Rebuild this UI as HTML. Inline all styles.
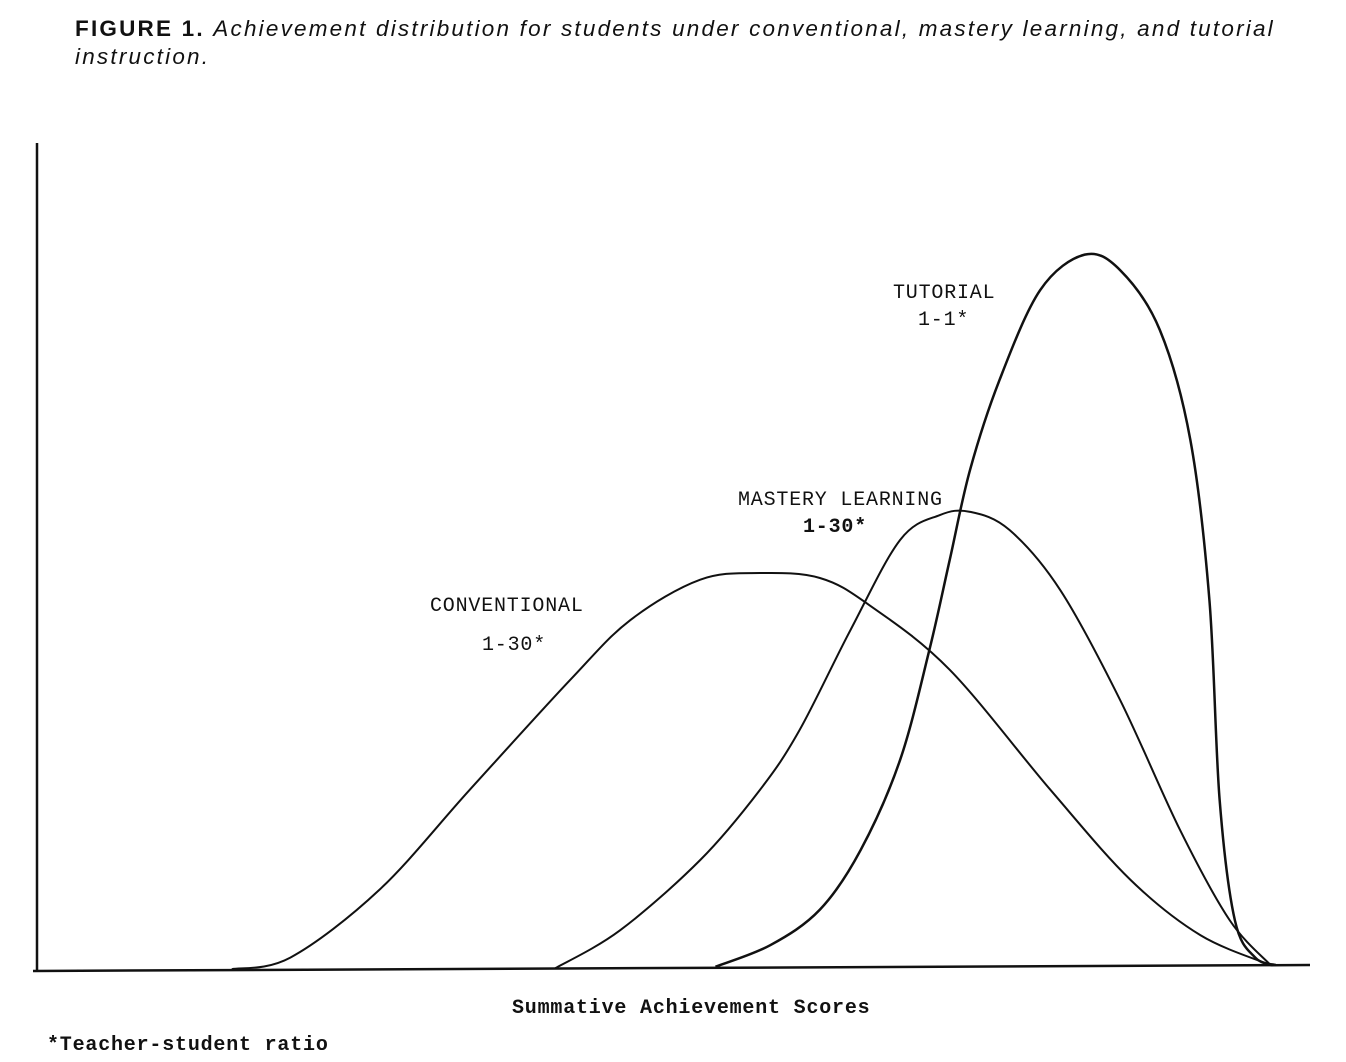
<!DOCTYPE html>
<html>
<head>
<meta charset="utf-8">
<style>
  html,body{margin:0;padding:0;background:#fff;}
  body{width:1346px;height:1062px;position:relative;overflow:hidden;font-family:"Liberation Sans",sans-serif;}
  .title{position:absolute;left:75px;top:15px;width:1225px;font-size:22.5px;line-height:28px;letter-spacing:2.2px;color:#111;}
  .title b{font-weight:bold;}
  .title i{font-style:italic;}
  svg{position:absolute;left:0;top:0;}
  .lbl{font-family:"Liberation Mono",monospace;font-size:20px;fill:#111;letter-spacing:0.8px;}
</style>
</head>
<body>
<div class="title"><b>FIGURE 1.</b> <i>Achievement distribution for students under conventional, mastery learning, and tutorial instruction.</i></div>
<svg id="chart" width="1346" height="1062">
  <line x1="37" y1="143" x2="37" y2="972" stroke="#111" stroke-width="2.5"/>
  <line x1="33" y1="971" x2="1310" y2="965" stroke="#111" stroke-width="2.5"/>
  <g id="curves"></g>
  <text class="lbl" x="893" y="298">TUTORIAL</text>
  <text class="lbl" x="918" y="325">1-1*</text>
  <text class="lbl" x="738" y="505">MASTERY LEARNING</text>
  <text class="lbl" x="803" y="532" font-weight="bold">1-30*</text>
  <text class="lbl" x="430" y="611">CONVENTIONAL</text>
  <text class="lbl" x="482" y="650">1-30*</text>
  <text class="lbl" x="512" y="1013" font-weight="bold">Summative Achievement Scores</text>
  <text class="lbl" x="47" y="1050" font-weight="bold">*Teacher-student ratio</text>
</svg>
<script>
const seriesNames = ['conventional','mastery-learning','tutorial'];
const convX = [15.3,19.9,26.9,34.0,41.9,46.6,52.1,56.8,61.5,65.4,71.7,79.6,85.9,91.4,96.9];
const convY = [0.1,1.5,9.7,21.8,35.1,42.3,47.2,48.0,47.4,44.1,36.3,21.8,10.9,4.2,0.6];
const mastX = [40.7,45.8,52.1,56.8,59.9,63.9,67.8,70.9,73.3,76.4,80.4,85.1,89.8,93.7,96.9];
const mastY = [0.2,4.8,13.3,21.8,29.0,41.1,52.0,55.0,55.4,53.2,45.9,32.6,16.9,6.0,0.6];
const tutX = [53.3,57.6,61.5,64.7,67.8,70.1,71.7,73.3,75.6,78.8,82.3,85.1,88.2,90.6,92.1,92.9,94.1,95.7,97.3];
const tutY = [0.4,3.0,7.3,14.5,25.4,38.7,49.6,60.5,71.3,82.2,86.5,84.6,77.4,64.1,44.7,20.6,6.0,1.5,0.6];

function xs(v){return 37 + v*12.73;}
function ys(v){return 970 - v*8.27;}
function pathFor(X,Y){
  const p = X.map((x,i)=>[xs(x),ys(Y[i])]);
  let d = 'M'+p[0][0]+','+p[0][1];
  for(let i=0;i<p.length-1;i++){
    const p0=p[i-1]||p[i], p1=p[i], p2=p[i+1], p3=p[i+2]||p2;
    const c1=[p1[0]+(p2[0]-p0[0])/6, p1[1]+(p2[1]-p0[1])/6];
    const c2=[p2[0]-(p3[0]-p1[0])/6, p2[1]-(p3[1]-p1[1])/6];
    d+=' C'+c1[0]+','+c1[1]+' '+c2[0]+','+c2[1]+' '+p2[0]+','+p2[1];
  }
  return d;
}
const g = document.getElementById('curves');
const all = [[convX,convY],[mastX,mastY],[tutX,tutY]];
all.forEach((s,i)=>{
  const el = document.createElementNS('http://www.w3.org/2000/svg','path');
  el.setAttribute('d', pathFor(s[0],s[1]));
  el.setAttribute('fill','none');
  el.setAttribute('stroke','#111');
  el.setAttribute('stroke-width', i===2 ? '2.5' : '2');
  
  
  g.appendChild(el);
});
</script>
</body>
</html>
